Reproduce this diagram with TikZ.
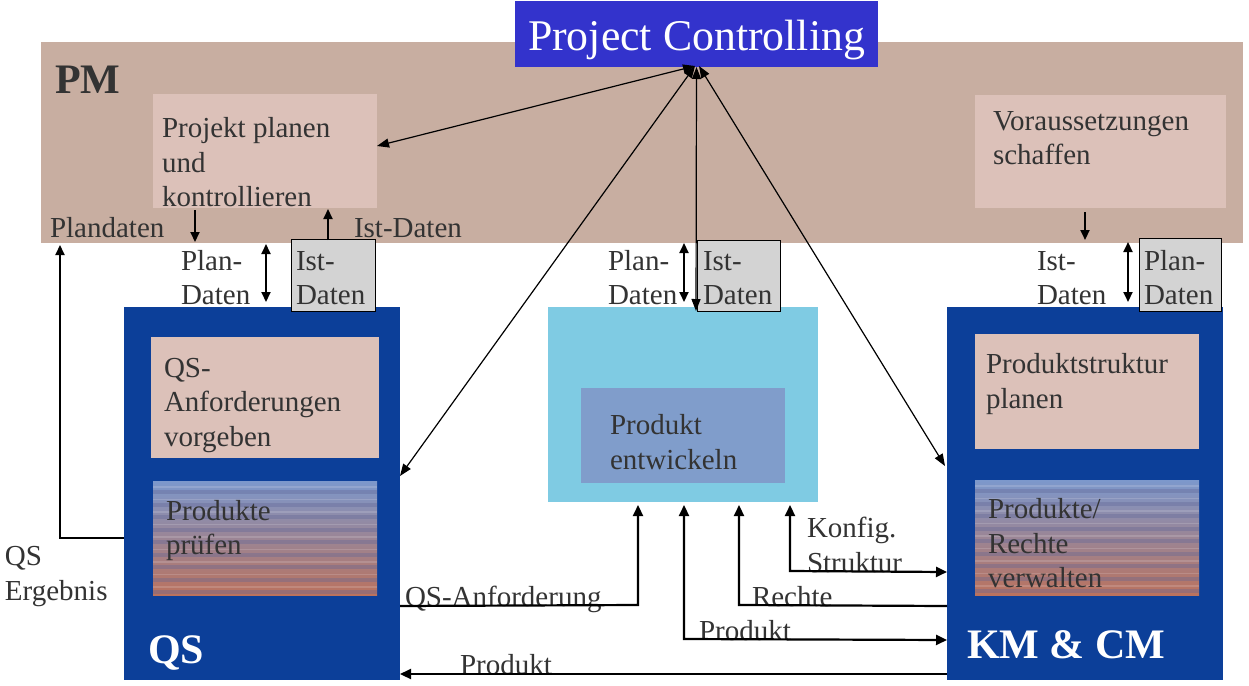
\documentclass[tikz,border=0pt]{standalone}
\usepackage{fontspec}
\setmainfont{Liberation Serif}
\usetikzlibrary{arrows.meta,calc}
\definecolor{pmband}{RGB}{200,174,161}
\definecolor{pinkbox}{RGB}{220,193,185}
\definecolor{pcblue}{RGB}{51,51,204}
\definecolor{darkblue}{RGB}{12,63,153}
\definecolor{skyblue}{RGB}{127,203,227}
\definecolor{innerblue}{RGB}{128,157,203}
\definecolor{graybox}{RGB}{211,211,211}
\definecolor{txt}{RGB}{51,51,51}
\definecolor{stripetop}{RGB}{124,152,204}
\definecolor{stripebot}{RGB}{186,114,94}
\definecolor{stripeband}{RGB}{95,100,150}
\tikzset{
  box/.style={anchor=north west, inner sep=0pt, outer sep=0pt, draw=none},
  lbl/.style={anchor=base west, inner sep=0pt, outer sep=0pt, text=txt, align=left},
  big/.style={font=\fontsize{42}{50}\selectfont\bfseries},
  databox/.style={box, fill=graybox, draw=black, line width=0.8pt},
  striped/.style={box, top color=stripetop, bottom color=stripebot},
  arr/.style={-{Triangle[length=10pt,width=9pt]}, line width=2pt},
  darr/.style={{Triangle[length=10pt,width=9pt]}-{Triangle[length=10pt,width=9pt]}, line width=2pt},
  diag/.style={{Triangle[length=12pt,width=9pt]}-{Triangle[length=12pt,width=9pt]}, line width=1.2pt},
  flow/.style={-{Triangle[length=11pt,width=10pt]}, line width=2.2pt},
  dflow/.style={{Triangle[length=11pt,width=10pt]}-{Triangle[length=11pt,width=10pt]}, line width=2.2pt}
}
\begin{document}
\begin{tikzpicture}[x=1pt,y=-1pt,font=\fontsize{29}{34.5}\selectfont]
\useasboundingbox (0,0) rectangle (1249,685);
\fill[white] (0,0) rectangle (1249,685);

% PM band
\node[box, fill=pmband, minimum width=1202pt, minimum height=201pt] (pm) at (41,42) {};
\node[lbl, big] (pmt) at (55,93) {PM};

% Project Controlling
\node[box, fill=pcblue, minimum width=363pt, minimum height=66pt] (pc) at (515,1) {};
\node[anchor=base, inner sep=0pt, text=white, font=\fontsize{43.8}{50}\selectfont] (pct) at (696.5,51) {Project Controlling};

% PM sub boxes
\node[box, fill=pinkbox, minimum width=224pt, minimum height=114pt] (pp) at (153,94) {};
\node[lbl] (ppt1) at (162,137) {Projekt planen};
\node[lbl] (ppt2) at (162,172) {und};
\node[lbl] (ppt3) at (162,206) {kontrollieren};

\node[box, fill=pinkbox, minimum width=251pt, minimum height=113pt] (vs) at (975,95) {};
\node[lbl] (vst1) at (993,130) {Voraussetzungen};
\node[lbl] (vst2) at (993,164) {schaffen};

% QS column
\node[box, fill=darkblue, minimum width=276pt, minimum height=373pt] (qs) at (124,307) {};
\node[box, fill=pinkbox, minimum width=228pt, minimum height=121pt] (qsa) at (151,337) {};
\node[lbl] (qsat1) at (164,377) {QS-};
\node[lbl] (qsat2) at (164,411) {Anforderungen};
\node[lbl] (qsat3) at (164,446) {vorgeben};
\node[striped, minimum width=224pt, minimum height=114pt] (pr) at (153,481) {};
\foreach \k in {0,...,8} {
  \fill[stripeband, opacity=0.35] ($(pr.north west)+(0,9+12.5*\k)$) rectangle ++(224,4);
  \fill[white, opacity=0.15] ($(pr.north west)+(0,5+12.5*\k)$) rectangle ++(224,1.5);
}
\node[lbl] (prt1) at (166,520) {Produkte};
\node[lbl] (prt2) at (166,554) {prüfen};
\node[lbl, big, text=white] (qst) at (148,663) {QS};

% Center column
\node[box, fill=skyblue, minimum width=270pt, minimum height=195pt] (sk) at (548,307) {};
\node[box, fill=innerblue, minimum width=204pt, minimum height=95pt] (pe) at (581,388) {};
\node[lbl] (pet1) at (610,434) {Produkt};
\node[lbl] (pet2) at (610,469) {entwickeln};

% KM & CM column
\node[box, fill=darkblue, minimum width=276pt, minimum height=373pt] (km) at (947,307) {};
\node[box, fill=pinkbox, minimum width=224pt, minimum height=115pt] (ps) at (975,334) {};
\node[lbl] (pst1) at (986,373) {Produktstruktur};
\node[lbl] (pst2) at (986,408) {planen};
\node[striped, minimum width=224pt, minimum height=115pt] (rv) at (975,480) {};
\foreach \k in {0,...,8} {
  \fill[stripeband, opacity=0.35] ($(rv.north west)+(0,9+12.5*\k)$) rectangle ++(224,4);
  \fill[white, opacity=0.15] ($(rv.north west)+(0,5+12.5*\k)$) rectangle ++(224,1.5);
}
\node[lbl] (rvt1) at (988,518) {Produkte/};
\node[lbl] (rvt2) at (988,553) {Rechte};
\node[lbl] (rvt3) at (988,587) {verwalten};
\node[lbl, big, text=white] (kmt) at (967,658) {KM \& CM};

% data boxes
\node[databox, minimum width=84pt, minimum height=72pt] (ist1) at (291,239) {};
\node[databox, minimum width=83pt, minimum height=71pt] (ist2) at (697,240) {};
\node[databox, minimum width=82pt, minimum height=73pt] (plan3) at (1139,238) {};

% data labels
\node[lbl] (pd1a) at (181,270) {Plan-};
\node[lbl] (pd1b) at (181,304) {Daten};
\node[lbl] (id1a) at (296,270) {Ist-};
\node[lbl] (id1b) at (296,304) {Daten};
\node[lbl] (pd2a) at (608,270) {Plan-};
\node[lbl] (pd2b) at (608,304) {Daten};
\node[lbl] (id2a) at (703,270) {Ist-};
\node[lbl] (id2b) at (703,304) {Daten};
\node[lbl] (id3a) at (1037,270) {Ist-};
\node[lbl] (id3b) at (1037,304) {Daten};
\node[lbl] (pd3a) at (1144,270) {Plan-};
\node[lbl] (pd3b) at (1144,304) {Daten};
\node[lbl] (pland) at (50,237) {Plandaten};
\node[lbl] (istd) at (354,237) {Ist-Daten};
\node[lbl] (qse1) at (5,565) {QS};
\node[lbl] (qse2) at (5,600) {Ergebnis};
\node[lbl] (kf1) at (807,537) {Konfig.};
\node[lbl] (kf2) at (807,572) {Struktur};
\node[lbl] (qsan) at (405,606) {QS-Anforderung};
\node[lbl] (re) at (752,606) {Rechte};
\node[lbl] (prod1) at (699,640) {Produkt};
\node[lbl] (prod2) at (460,674) {Produkt};

% coordinates for connectors
\coordinate (ppdown) at (195,210);
\coordinate (pmb1) at (195,242);
\coordinate (istup) at (328,240);
\coordinate (ppb2) at (328,209);
\coordinate (dl1) at (266,244);
\coordinate (dl2) at (266,302);
\coordinate (dc1) at (684,243);
\coordinate (dc2) at (684,302);
\coordinate (vsd1) at (1085,212);
\coordinate (vsd2) at (1085,240);
\coordinate (dr1) at (1128,242);
\coordinate (dr2) at (1128,302);
\coordinate (ppin) at (377,146);
\coordinate (qsin) at (400,476);
\coordinate (kmin) at (945,466);
\coordinate (pcin) at (695,66);
\coordinate (pcin2) at (699,66);
\coordinate (pcbot) at (696,311);
\coordinate (erg) at (60,538);
\coordinate (plandin) at (60,245);

% connectors
\draw[arr] (ppdown) -- (pmb1);
\draw[arr] (istup) -- (ppb2);
\draw[darr] (dl1) -- (dl2);
\draw[darr] (dc1) -- (dc2);
\draw[arr] (vsd1) -- (vsd2);
\draw[darr] (dr1) -- (dr2);

\draw[diag] (ppin) -- (pcin);
\draw[diag] (qsin) -- (pcin);
\draw[diag] (kmin) -- (pcin2);
\draw[diag] (pc.south) -- (pcbot);

\draw[arr] (qs.west |- erg) -- (erg) -- (plandin);

\draw[flow] (qs.east |- qsan.base) -- (638,605) -- (638,505);
\draw[dflow] (684,505) -- (684,639) -- (km.west |- prod1.base);
\draw[flow] (km.west |- re.base) -- (739,605) -- (739,505);
\draw[dflow] (790,505) -- (790,571) -- (km.west |- kf2.base);
\draw[flow] (km.west |- prod2.base) -- (qs.east |- prod2.base);
\end{tikzpicture}
\end{document}
